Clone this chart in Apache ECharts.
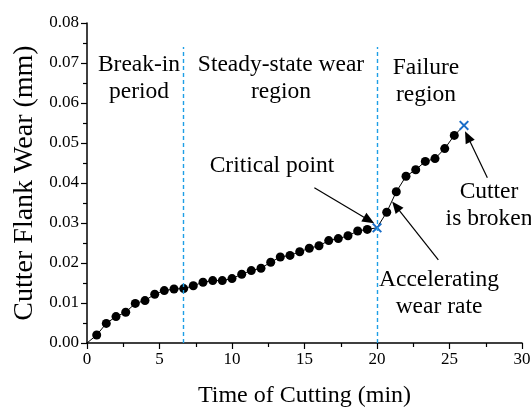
<!DOCTYPE html>
<html>
<head>
<meta charset="utf-8">
<script src="https://cdn.jsdelivr.net/npm/echarts@6/dist/echarts.min.js"></script>
<style>
  html, body { margin: 0; padding: 0; background: #fff; }
  #main { width: 531px; height: 410px; }
</style>
</head>
<body>
<div id="main"></div>
<script>
// cutting time (min) and flank wear (mm)
var cutTime = [0, 0.67, 1.33, 2, 2.67, 3.33, 4, 4.67, 5.33, 6, 6.67, 7.33, 8, 8.67, 9.33,
  10, 10.67, 11.33, 12, 12.67, 13.33, 14, 14.67, 15.33, 16, 16.67, 17.33, 18, 18.67, 19.33,
  20, 20.67, 21.33, 22, 22.67, 23.33, 24, 24.67, 25.33, 26];
var flankWear = [0, 0.0020, 0.0049, 0.0066, 0.0077, 0.0099, 0.0106, 0.0122, 0.0131, 0.0135,
  0.0136, 0.0143, 0.0152, 0.0156, 0.0156, 0.0161, 0.0172, 0.0181, 0.0187, 0.0202,
  0.0215, 0.0219, 0.0228, 0.0237, 0.0243, 0.0256, 0.0261, 0.0268, 0.0280, 0.0284,
  0.0288, 0.0327, 0.0378, 0.0417, 0.0433, 0.0454, 0.0461, 0.0486, 0.0519, 0.0544];
var crossTimes = [20, 26];          // critical point, cutter broken
var regionBounds = [6.67, 20];
var regionTop = 0.074;
var yTicks = ['0.00', '0.01', '0.02', '0.03', '0.04', '0.05', '0.06', '0.07', '0.08'];
var xTicks = ['0', '5', '10', '15', '20', '25', '30'];

var SERIF = '"Liberation Serif", "Times New Roman", serif';
var CROSS = 'path://M0,1.4L1.4,0L5,3.6L8.6,0L10,1.4L6.4,5L10,8.6L8.6,10L5,6.4L1.4,10L0,8.6L3.6,5Z';

var chart = echarts.init(document.getElementById('main'), null, { renderer: 'canvas' });

var points = cutTime.map(function (t, i) {
  var item = { value: [t, flankWear[i]] };
  if (i === 0) item.symbol = 'none';
  if (crossTimes.indexOf(t) >= 0) {
    item.symbol = CROSS;
    item.symbolSize = 10;
    item.itemStyle = { color: '#1a6ec8' };
  }
  return item;
});

function seg(x1, y1, x2, y2) {
  return [{ coord: [x1, y1] }, { coord: [x2, y2] }];
}
function arrow(x1, y1, x2, y2) {
  return [
    { coord: [x1, y1], symbol: 'none' },
    { coord: [x2, y2], symbol: 'triangle', symbolSize: [10, 12] }
  ];
}

function txt(s, cx, top) {
  return {
    type: 'text', x: cx, y: top, z: 10,
    style: {
      text: s, fill: '#000', font: '23.5px ' + SERIF,
      align: 'center', verticalAlign: 'top', lineHeight: 27
    }
  };
}

var option = {
  animation: false,
  backgroundColor: '#fff',
  grid: { left: 87, right: 9, top: 23, bottom: 67, outerBoundsMode: 'none' },
  xAxis: {
    type: 'value', min: 0, max: 30, interval: 5,
    name: 'Time of Cutting (min)', nameLocation: 'middle', nameGap: 41,
    nameTextStyle: { fontFamily: SERIF, fontSize: 24, color: '#000' },
    axisLine: { onZero: false, lineStyle: { color: '#000', width: 1.5 } },
    axisTick: { show: true, length: 6, lineStyle: { color: '#000', width: 1.2 } },
    minorTick: { show: true, splitNumber: 2, length: 4, lineStyle: { color: '#000', width: 1.2 } },
    axisLabel: {
      margin: 8, fontFamily: SERIF, fontSize: 17, color: '#000',
      formatter: function (v) { return xTicks[Math.round(v / 5)]; }
    },
    splitLine: { show: false }
  },
  yAxis: {
    type: 'value', min: 0, max: 0.08, interval: 0.01,
    name: 'Cutter Flank Wear (mm)', nameLocation: 'middle', nameGap: 46,
    nameTextStyle: { fontFamily: SERIF, fontSize: 28, color: '#000' },
    axisLine: { show: true, lineStyle: { color: '#000', width: 1.5 } },
    axisTick: { show: true, length: 6, lineStyle: { color: '#000', width: 1.2 } },
    minorTick: { show: true, splitNumber: 2, length: 4, lineStyle: { color: '#000', width: 1.2 } },
    axisLabel: {
      margin: 8, fontFamily: SERIF, fontSize: 17, color: '#000',
      formatter: function (v) { return yTicks[Math.round(v * 100)]; }
    },
    splitLine: { show: false }
  },
  series: [
    {
      type: 'line',
      data: points,
      symbol: 'circle',
      symbolSize: 9,
      showAllSymbol: true,
      itemStyle: { color: '#000' },
      lineStyle: { color: '#000', width: 1 },
      z: 3
    },
    {
      // region boundaries
      type: 'line',
      data: [],
      markLine: {
        silent: true,
        symbol: ['none', 'none'],
        label: { show: false },
        lineStyle: { color: '#1e9fe6', width: 1.4, type: [4, 3] },
        data: regionBounds.map(function (b) { return seg(b, 0, b, regionTop); })
      }
    },
    {
      // annotation arrows
      type: 'line',
      data: [],
      markLine: {
        silent: true,
        label: { show: false },
        lineStyle: { color: '#000', width: 1.2, type: 'solid' },
        itemStyle: { color: '#000' },
        data: [
          arrow(15.68, 0.0388, 19.45, 0.0307),
          arrow(24.23, 0.0208, 21.3, 0.0342),
          arrow(27.61, 0.0413, 26.25, 0.0516)
        ]
      }
    }
  ],
  graphic: [
    txt('Break-in\nperiod', 139, 51),
    txt('Steady-state wear\nregion', 281, 51),
    txt('Failure\nregion', 426, 54),
    txt('Critical point', 272, 152),
    txt('Cutter\nis broken', 489, 178),
    txt('Accelerating\nwear rate', 439, 266)
  ]
};

chart.setOption(option);
</script>
</body>
</html>
